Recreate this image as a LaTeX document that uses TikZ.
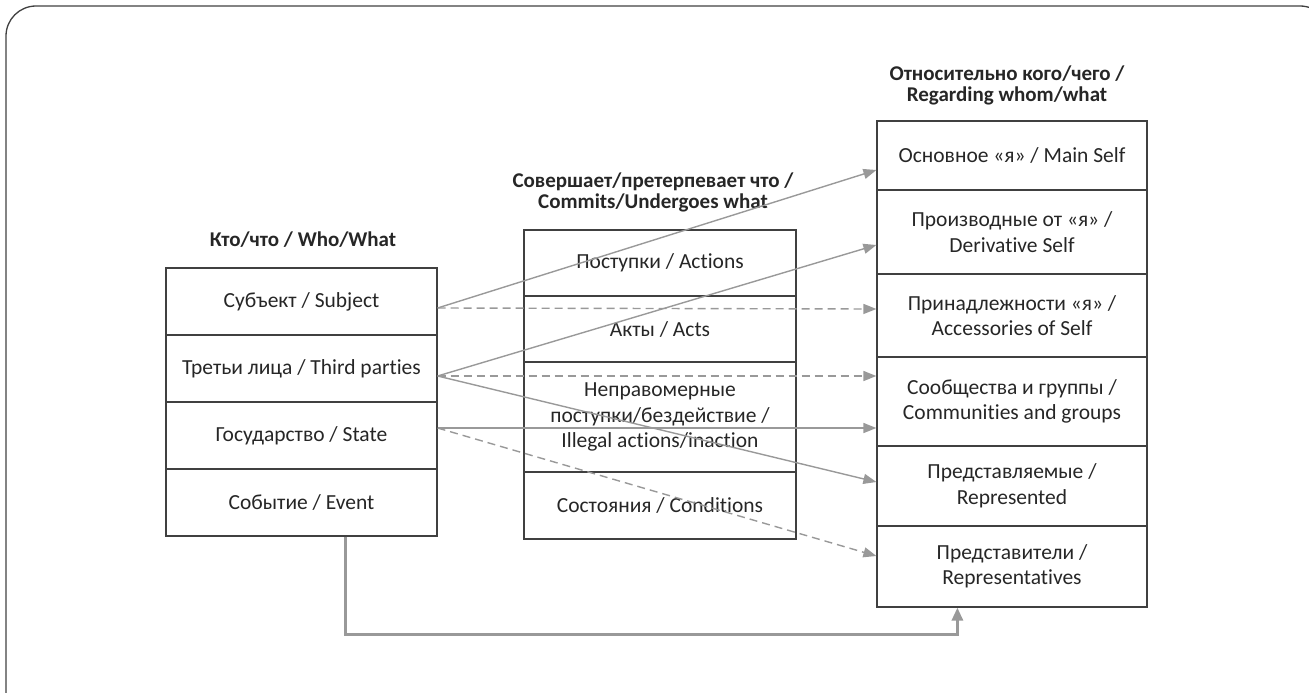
\documentclass[tikz,border=0pt]{standalone}
\usepackage{fontspec}
\setmainfont{Carlito}[Ligatures={NoCommon}]
\usetikzlibrary{arrows.meta,calc}
\definecolor{boxc}{HTML}{404040}
\definecolor{arr}{HTML}{999999}
\definecolor{txt}{HTML}{262626}
\begin{document}
\begin{tikzpicture}[x=1pt,y=-1pt,
  cell/.style={draw=boxc, line width=1.2pt, rectangle, inner sep=0pt, align=center,
    font=\fontsize{21.5}{25.5}\selectfont, text=txt},
  ttl/.style={font=\bfseries\fontsize{21}{21}\selectfont, align=center, text=txt},
  arrline/.style={draw=arr, line width=1.4pt, -{Triangle[length=13pt,width=10pt]}},
  dasharr/.style={arrline, dash pattern=on 8pt off 5pt},
  eventarr/.style={draw=arr, line width=3pt, -{Triangle[length=13pt,width=11pt]}},
  lcell/.style={cell, minimum width=271pt},
  mcell/.style={cell, minimum width=272pt},
  rcell/.style={cell, minimum width=270pt}
]
\useasboundingbox (0,0) rectangle (1309,693);
\draw[boxc, line width=1.3pt, rounded corners=30pt] (6,6) rectangle (1330,722);

% titles
\node[ttl] (tl) at (303,240) {Кто/что / Who/What};
\node[ttl] (tm) at (653,192) {Совершает/претерпевает что /\\Commits/Undergoes what};
\node[ttl] (tr) at (1007,85) {Относительно кого/чего /\\Regarding whom/what};

% left column
\node[lcell, minimum height=67pt] (s) at (301.5,301.5) {Субъект / Subject};
\node[lcell, minimum height=67pt] (t) at (301.5,368.5) {Третьи лица / Third parties};
\node[lcell, minimum height=67pt] (g) at (301.5,435.5) {Государство / State};
\node[lcell, minimum height=67pt] (e) at (301.5,502.5) {Событие / Event};

% middle column
\node[mcell, minimum height=66pt] (pa) at (660,263) {Поступки / Actions};
\node[mcell, minimum height=66pt] (ac) at (660,329) {Акты / Acts};
\node[mcell, minimum height=110pt] (il) at (660,417) {Неправомерные\\поступки/бездействие /\\Illegal actions/inaction};
\node[mcell, minimum height=67pt] (co) at (660,505.5) {Состояния / Conditions};

% right column
\node[rcell, minimum height=69pt] (ms) at (1012,155.5) {Основное «я» / Main Self};
\node[rcell, minimum height=84pt] (ds) at (1012,232) {Производные от «я» /\\Derivative Self};
\node[rcell, minimum height=83pt] (as) at (1012,315.5) {Принадлежности «я» /\\Accessories of Self};
\node[rcell, minimum height=89pt] (cg) at (1012,401.5) {Сообщества и группы /\\Communities and groups};
\node[rcell, minimum height=80pt] (rd) at (1012,486) {Представляемые /\\Represented};
\node[rcell, minimum height=81pt] (rp) at (1012,566.5) {Представители /\\Representatives};

% connection points
\coordinate (s1) at ($(s.east)+(0,6.5)$);
\coordinate (t1) at ($(t.east)+(0,7.5)$);
\coordinate (g1) at ($(g.east)+(0,-7.5)$);
\coordinate (e1) at ($(e.south west)+(180,0)$);
\coordinate (ms1) at ($(ms.west)+(0,14.5)$);
\coordinate (ds1) at ($(ds.west)+(0,13)$);
\coordinate (as1) at ($(as.west)+(0,-6.5)$);
\coordinate (cg1) at ($(cg.west)+(0,-25.5)$);
\coordinate (cg2) at ($(cg.west)+(0,26.5)$);
\coordinate (rd1) at ($(rd.west)+(0,-4)$);
\coordinate (rp1) at ($(rp.west)+(0,-10.5)$);
\coordinate (rp2) at ($(rp.south west)+(81,0)$);

% arrows
\draw[arrline] (s1) -- (ms1);
\draw[dasharr] (s1) -- (as1);
\draw[arrline] (t1) -- (ds1);
\draw[dasharr] (t1) -- (cg1);
\draw[arrline] (t1) -- (rd1);
\draw[arrline] (g1) -- (cg2);
\draw[dasharr] (g1) -- (rp1);
\draw[eventarr] (e1) -- ++(0,98) -| (rp2);
\end{tikzpicture}
\end{document}
